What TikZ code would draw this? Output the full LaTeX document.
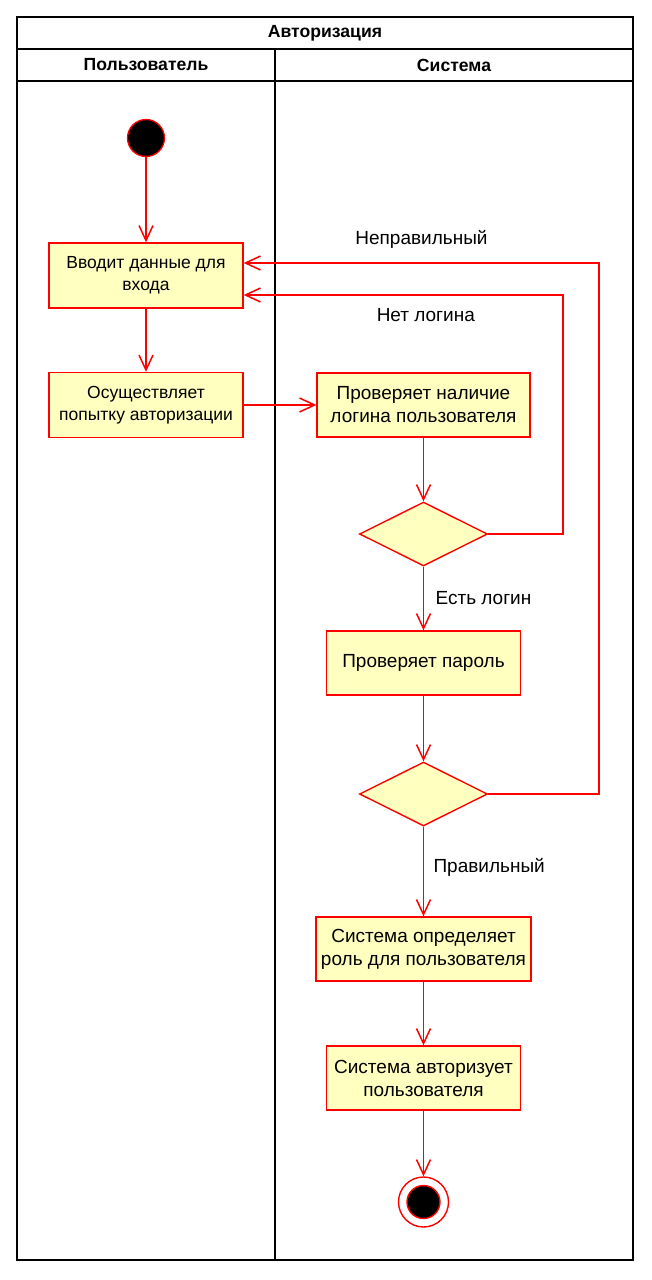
\documentclass[tikz,border=0pt]{standalone}
\usepackage{fontspec}
\setmainfont{Liberation Sans}
\usetikzlibrary{arrows.meta,shapes.geometric}
\definecolor{actfill}{RGB}{255,255,192}

\begin{document}
\begin{tikzpicture}[x=1pt,y=-1pt,>={Straight Barb[length=15pt,width=14pt]},
        lane/.style={draw=black,line width=1.6pt},
        lanehead/.style={font=\bfseries\fontsize{17.6}{20}\selectfont},
        useract/.style={rectangle,draw=red,fill=actfill,line width=1.4pt,minimum width=194pt,
          minimum height=65pt,inner sep=4pt,align=center,font=\fontsize{17.5}{22}\selectfont},
        sysact/.style={rectangle,draw=red,fill=actfill,line width=1.4pt,minimum width=194pt,
          minimum height=64pt,inner sep=4pt,align=center,font=\fontsize{19}{23}\selectfont},
        decision/.style={diamond,draw=red,fill=actfill,line width=1.4pt,minimum width=128pt,
          minimum height=64pt,inner sep=0pt},
        initialst/.style={circle,draw=red,fill=black,line width=1.3pt,minimum size=37pt,inner sep=0pt},
        finalst/.style={circle,draw=red,line width=1.4pt,minimum size=50pt,inner sep=0pt,
          path picture={\filldraw[draw=red,fill=black] (path picture bounding box.center) circle (16.5pt);}},
        flow/.style={->,draw=red,line width=1.5pt},
        guard/.style={font=\fontsize{19}{23}\selectfont}]

  \useasboundingbox (0,0) rectangle (652,1280);

  \draw[lane] (17,17) rectangle (633,1260);
  \draw[lane] (17,49) -- (633,49) (17,81) -- (633,81) (275,49) -- (275,1260);
  \node[lanehead] (title) at (325,33) {Авторизация};
  \node[lanehead] (userlane) at (146,65) {Пользователь};
  \node[lanehead] (syslane) at (454,65) {Система};

  \node[initialst] (start) at (146,138) {};
  \node[useract, below of=start, node distance=137.5pt] (enter) {Вводит данные для\\входа};
  \node[useract, below of=enter, node distance=129.5pt] (attempt) {Осуществляет\\попытку авторизации};
  \node[sysact, minimum width=213pt, right of=attempt, node distance=277.5pt] (checklogin) {Проверяет наличие\\логина пользователя};
  \node[decision, below of=checklogin, node distance=129pt] (loginq) {};
  \node[sysact, below of=loginq, node distance=129pt] (checkpass) {Проверяет пароль};
  \node[decision, below of=checkpass, node distance=131pt] (passq) {};
  \node[sysact, minimum width=215pt, below of=passq, node distance=155pt] (setrole) {Система определяет\\роль для пользователя};
  \node[sysact, below of=setrole, node distance=129pt] (grant) {Система авторизует\\пользователя};
  \node[finalst, below of=grant, node distance=124pt] (stop) {};

  \draw[flow] (start) -- (enter);
  \draw[flow] (enter) -- (attempt);
  \draw[flow] (attempt) -- (checklogin);
  \draw[flow] (checklogin) -- (loginq);
  \draw[flow] (loginq) -- node[guard, right=8pt] {Есть логин} (checkpass);
  \draw[flow] (checkpass) -- (passq);
  \draw[flow] (passq) -- node[guard, right=6pt, pos=0.45] {Правильный} (setrole);
  \draw[flow] (setrole) -- (grant);
  \draw[flow] (grant) -- (stop);
  \draw[flow] (loginq.east) -- ++(75,0) |- ([yshift=-19.5pt]enter.east)
        node[guard, pos=0.715, below=9pt] {Нет логина};
  \draw[flow] (passq.east) -- ++(111,0) |- ([yshift=12.5pt]enter.east)
        node[guard, pos=0.75, above=10pt] {Неправильный};

\end{tikzpicture}
\end{document}
